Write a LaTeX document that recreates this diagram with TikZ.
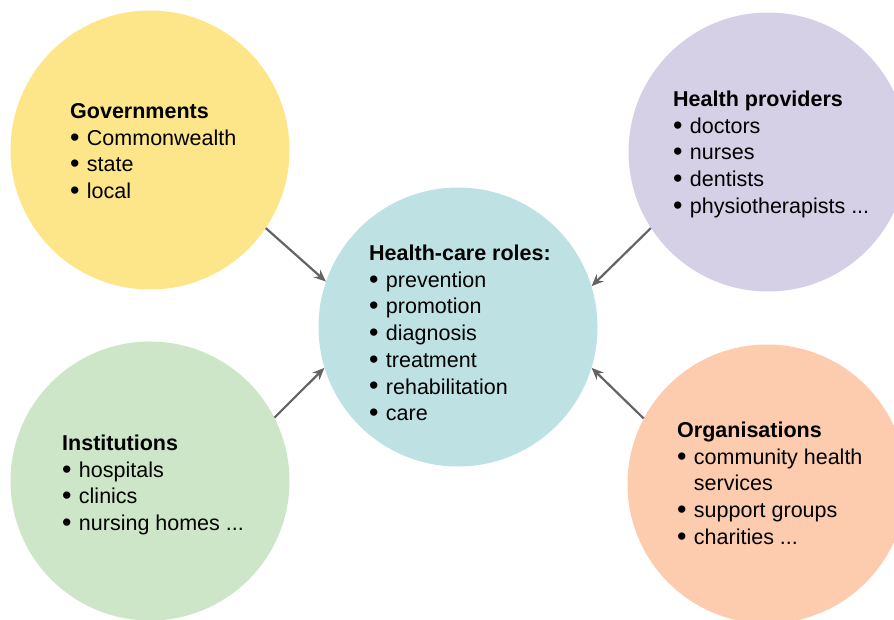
\documentclass[tikz,border=0pt]{standalone}
\usepackage{fontspec}
\setmainfont{Liberation Sans}
\usetikzlibrary{arrows.meta}
\definecolor{cgov}{RGB}{253,230,138}
\definecolor{cprov}{RGB}{213,208,229}
\definecolor{croles}{RGB}{190,225,228}
\definecolor{cinst}{RGB}{205,230,200}
\definecolor{corg}{RGB}{253,203,174}
\definecolor{carrow}{RGB}{100,100,100}
\newcommand{\bul}{\makebox[0.78em][l]{\raisebox{-0.04em}{\scalebox{1.25}{•}}}}
\tikzset{
  bubble/.style={circle, minimum size=279pt, inner sep=0pt, draw=none},
  txt/.style={anchor=base west, inner sep=0pt, font=\fontsize{21.5}{26.7}\selectfont},
  conn/.style={draw=carrow, line width=2.2pt, -{Stealth[length=12pt,width=10pt]}}
}
\begin{document}
\begin{tikzpicture}[x=1pt,y=-1pt]
\useasboundingbox (0,0) rectangle (894,619);
\begin{scope}
\clip (0,0) rectangle (894,619);
\node[bubble, fill=cgov] (gov) at (150,150) {};
\node[bubble, fill=cprov] (prov) at (768,152) {};
\node[bubble, fill=croles] (roles) at (458,327) {};
\node[bubble, fill=cinst] (inst) at (150,481) {};
\node[bubble, fill=corg] (org) at (767,484) {};
\end{scope}
\node[txt] (tgov) at (70,118.5) {\vtop{\baselineskip=26.7pt
  \hbox{\textbf{Governments}}
  \hbox{\bul Commonwealth}
  \hbox{\bul state}
  \hbox{\bul local}}};
\node[txt] (tprov) at (673,106.5) {\vtop{\baselineskip=26.7pt
  \hbox{\textbf{Health providers}}
  \hbox{\bul doctors}
  \hbox{\bul nurses}
  \hbox{\bul dentists}
  \hbox{\bul physiotherapists ...}}};
\node[txt] (troles) at (369,260.5) {\vtop{\baselineskip=26.7pt
  \hbox{\textbf{Health-care roles:}}
  \hbox{\bul prevention}
  \hbox{\bul promotion}
  \hbox{\bul diagnosis}
  \hbox{\bul treatment}
  \hbox{\bul rehabilitation}
  \hbox{\bul care}}};
\node[txt] (tinst) at (62,450.5) {\vtop{\baselineskip=26.7pt
  \hbox{\textbf{Institutions}}
  \hbox{\bul hospitals}
  \hbox{\bul clinics}
  \hbox{\bul nursing homes ...}}};
\node[txt] (torg) at (677,437.5) {\vtop{\baselineskip=26.7pt
  \hbox{\textbf{Organisations}}
  \hbox{\bul community health}
  \hbox{\hspace*{0.78em}services}
  \hbox{\bul support groups}
  \hbox{\bul charities ...}}};
\draw[conn] (gov.-34) -- (roles.161.7);
\draw[conn] (prov.213.2) -- (roles.17.4);
\draw[conn] (inst.27.3) -- (roles.197.9);
\draw[conn] (org.152) -- (roles.-17.8);
\end{tikzpicture}
\end{document}
